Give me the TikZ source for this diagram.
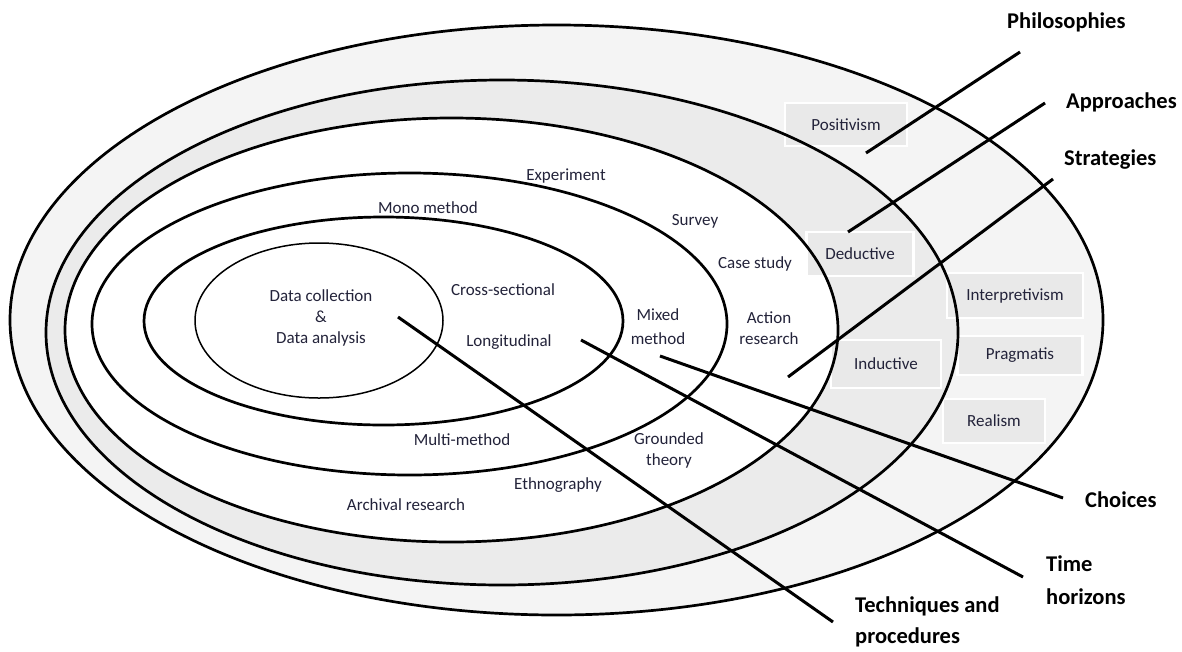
\documentclass[tikz,border=0pt]{standalone}
\usepackage{fontspec}
\setmainfont{Carlito}
\definecolor{bandouter}{HTML}{F4F4F4}
\definecolor{bandmid}{HTML}{EBEBEB}
\definecolor{boxfill}{HTML}{E9E9E9}
\definecolor{labelink}{HTML}{23233A}
\begin{document}
\begin{tikzpicture}[x=1pt,y=-1pt,
  ring/.style={draw=black,line width=2.7pt},
  core/.style={draw=black,line width=1.5pt},
  pointer/.style={draw=black,line width=3pt},
  term/.style={font=\fontsize{17}{21}\selectfont,text=labelink,align=center,inner sep=0pt},
  layer/.style={font=\bfseries\fontsize{22.5}{31}\selectfont,text=black,align=left,inner sep=0pt,anchor=west},
  tag/.style={fill=boxfill,draw=white,line width=2.5pt,font=\fontsize{17}{21}\selectfont,text=labelink,inner sep=0pt}]
% page
\fill[white] (0,0) rectangle (1182,651);
\useasboundingbox (0,0) rectangle (1182,651);

% shaded bands of the onion
\fill[bandouter] (556.5,320) ellipse [x radius=546.5, y radius=295];
\fill[bandmid] (502,332.5) ellipse [x radius=456, y radius=252.5];
\fill[white] (451.5,330) ellipse [x radius=386.5, y radius=212];

% option boxes
\node[tag,minimum width=122pt,minimum height=43pt] (positivism) at (846,124.5) {Positivism};
\node[tag,minimum width=107pt,minimum height=44pt] (deductive) at (860,254) {Deductive};
\node[tag,minimum width=110pt,minimum height=48pt] (inductive) at (886,364) {Inductive};
\node[tag,minimum width=136pt,minimum height=45pt] (interpretivism) at (1015,295.5) {Interpretivism};
\node[tag,minimum width=125pt,minimum height=39pt] (pragmatis) at (1020,355.5) {Pragmatis};
\node[tag,minimum width=102pt,minimum height=44pt] (realism) at (994,421) {Realism};

% layer outlines
\draw[ring] (556.5,320) ellipse [x radius=546.5, y radius=295];
\draw[ring] (502,332.5) ellipse [x radius=456, y radius=252.5];
\draw[ring] (451.5,330) ellipse [x radius=386.5, y radius=212];
\draw[ring] (409.5,324) ellipse [x radius=317.5, y radius=151];
\draw[ring] (383.5,321) ellipse [x radius=239.5, y radius=104];
\draw[core] (319,320.5) ellipse [x radius=124, y radius=77.5];

% terms inside the layers
\node[term] (collect) at (321,318) {Data collection\\\&\\Data analysis};
\node[term] (cross) at (503,290) {Cross-sectional};
\node[term] (longi) at (509,342) {Longitudinal};
\node[term,font=\fontsize{17}{24}\selectfont] (mixed) at (658,327) {Mixed\\method};
\node[term] (mono) at (428,208) {Mono method};
\node[term] (multi) at (462,440) {Multi-method};
\node[term] (experiment) at (566,176) {Experiment};
\node[term] (survey) at (695,221) {Survey};
\node[term] (casestudy) at (755,264) {Case study};
\node[term] (action) at (769,328) {Action\\research};
\node[term] (grounded) at (669,450) {Grounded\\theory};
\node[term] (ethno) at (558,485) {Ethnography};
\node[term] (archival) at (406,505) {Archival research};

% layer names
\node[layer] (philosophies) at (1007,22) {Philosophies};
\node[layer] (approaches) at (1066,102) {Approaches};
\node[layer] (strategies) at (1064,160) {Strategies};
\node[layer] (choices) at (1085,500) {Choices};
\node[layer,font=\bfseries\fontsize{22.5}{33}\selectfont] (horizons) at (1046,580) {Time\\horizons};
\node[layer] (techniques) at (855,622) {Techniques and\\procedures};

% pointer ends
\coordinate (philIn) at (866,153);
\coordinate (philOut) at (1020,52);
\coordinate (apprIn) at (848,232);
\coordinate (apprOut) at (1045,103);
\coordinate (stratIn) at (788,377);
\coordinate (stratOut) at (1053,179);
\coordinate (choiceIn) at (660,356);
\coordinate (choiceOut) at (1063,498);
\coordinate (timeIn) at (581,340);
\coordinate (timeOut) at (1023,577);
\coordinate (techIn) at (398,317);
\coordinate (techOut) at (833,622);

% pointers from each layer to its name
\draw[pointer] (philIn) -- (philOut);
\draw[pointer] (apprIn) -- (apprOut);
\draw[pointer] (stratIn) -- (stratOut);
\draw[pointer] (choiceIn) -- (choiceOut);
\draw[pointer] (timeIn) -- (timeOut);
\draw[pointer] (techIn) -- (techOut);
\end{tikzpicture}
\end{document}
